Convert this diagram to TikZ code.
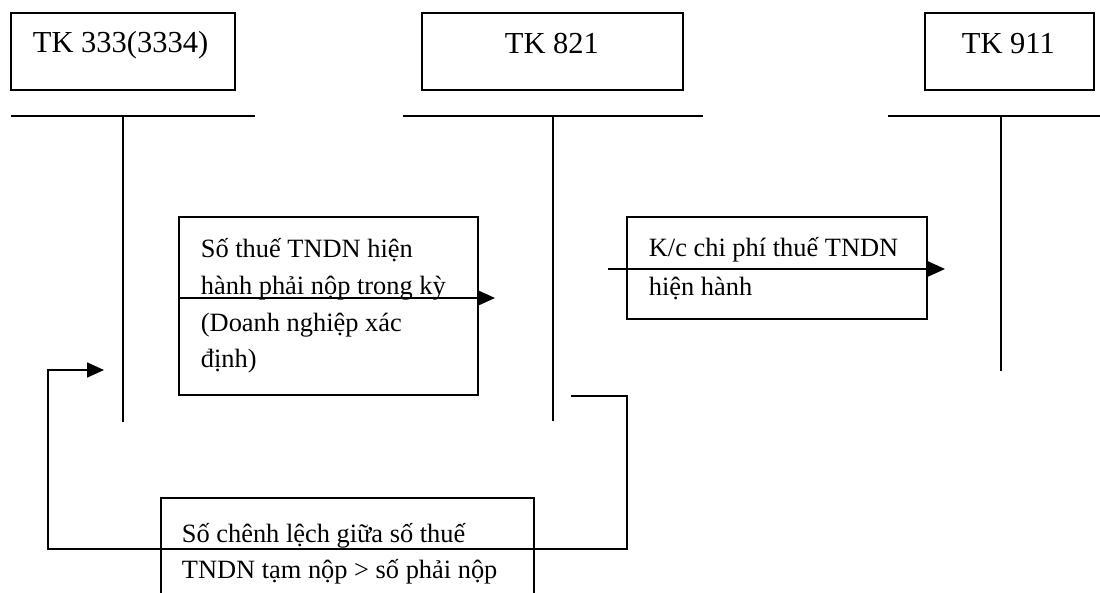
\documentclass[tikz,border=0pt]{standalone}
\usepackage{fontspec}
\setmainfont{Liberation Serif}
\usetikzlibrary{arrows.meta}
\begin{document}
\begin{tikzpicture}[x=1pt,y=-1pt,
  line width=1.8pt,
  acct/.style={draw,inner sep=0pt,minimum height=77pt},
  notebox/.style={draw,inner sep=0pt},
  title/.style={anchor=base west,inner sep=0pt,font=\fontsize{30.5}{36}\selectfont},
  txt/.style={anchor=base west,inner sep=0pt,font=\fontsize{26.4}{37}\selectfont},
  flow/.style={-{Triangle[length=17pt,width=15pt]}},
  tline/.style={line cap=butt}]
\clip (0,0) rectangle (1100,593);
\fill[white] (0,0) rectangle (1100,593);

% account title boxes
\node[acct,minimum width=224pt] (b333) at (123,51.5) {};
\node[acct,minimum width=261pt] (b821) at (552.5,51.5) {};
\node[acct,minimum width=169pt] (b911) at (1009.5,51.5) {};
\node[title] (t333) at (32,53) {TK 333(3334)};
\node[title] (t821) at (504,54) {TK 821};
\node[title] (t911) at (961,54) {TK 911};

% T-account lines
\coordinate (h1l) at (11,116);   \coordinate (h1r) at (255,116);
\coordinate (v1t) at (123,116);  \coordinate (v1b) at (123,422);
\coordinate (h2l) at (403,116);  \coordinate (h2r) at (703,116);
\coordinate (v2t) at (553,116);  \coordinate (v2b) at (553,421);
\coordinate (h3l) at (888,116);  \coordinate (h3r) at (1100,116);
\coordinate (v3t) at (1001,116); \coordinate (v3b) at (1001,371);
\draw[tline] (h1l) -- (h1r) (v1t) -- (v1b);
\draw[tline] (h2l) -- (h2r) (v2t) -- (v2b);
\draw[tline] (h3l) -- (h3r) (v3t) -- (v3b);

% explanation boxes
\node[notebox,minimum width=299pt,minimum height=178pt] (n1) at (328.5,306) {};
\node[notebox,minimum width=300pt,minimum height=102pt] (n2) at (777,268) {};
\node[notebox,minimum width=373pt,minimum height=140pt] (n3) at (347.5,568) {};

\node[txt] (n1a) at (200,258) {Số thuế TNDN hiện};
\node[txt] (n1b) at (200,295) {hành phải nộp trong kỳ};
\node[txt] (n1c) at (200,332) {(Doanh nghiệp xác};
\node[txt] (n1d) at (200,368) {định)};

\node[txt] (n2a) at (648,257) {K/c chi phí thuế TNDN};
\node[txt] (n2b) at (648,296) {hiện hành};

\node[txt] (n3a) at (181,542) {Số chênh lệch giữa số thuế};
\node[txt] (n3b) at (181,578) {TNDN tạm nộp > số phải nộp};

% flows between the accounts
\coordinate (a1s) at (178,298); \coordinate (a1e) at (495,298);
\coordinate (a2s) at (608,269); \coordinate (a2e) at (945,269);
\draw[flow] (a1s) -- (a1e);
\draw[flow] (a2s) -- (a2e);

\coordinate (r0) at (571,396);
\coordinate (r1) at (627,396);
\coordinate (r2) at (627,549);
\coordinate (r3) at (48,549);
\coordinate (r4) at (48,370);
\coordinate (r5) at (104,370);
\draw[flow,line join=miter] (r0) -- (r1) -- (r2) -- (r3) -- (r4) -- (r5);
\end{tikzpicture}
\end{document}
